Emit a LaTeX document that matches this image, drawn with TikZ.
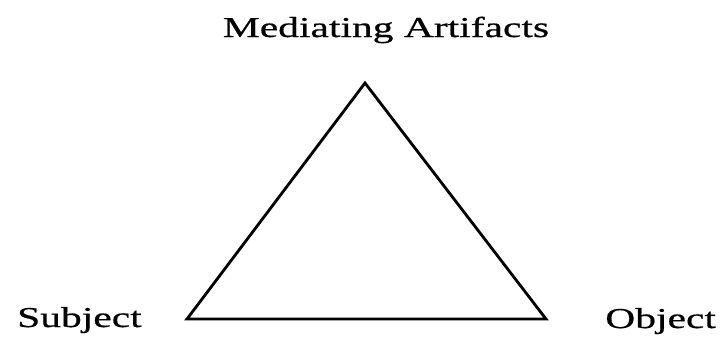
\documentclass[tikz,border=0pt]{standalone}
\usepackage{fontspec}
\setmainfont[FakeStretch=1.44,FakeBold=0.6]{Liberation Serif}
\usetikzlibrary{positioning}

\begin{document}
\begin{tikzpicture}[x=0.025cm,y=0.025cm,every node/.style={font=\fontsize{20.5}{25}\selectfont,inner sep=0pt}]
\useasboundingbox (0,0) rectangle (721,338);
\coordinate (top) at (365,255);
\coordinate (left) at (187,19);
\coordinate (right) at (546,19);
\node[anchor=base] (med) at (386,301) {Mediating Artifacts};
\node[left=1.125cm of left,anchor=base east,yshift=-0.2cm] (subj) {Subject};
\node[right=1.475cm of right,anchor=base west,yshift=-0.225cm] (obj) {Object};
\draw[line width=2pt,line join=miter] (top) -- (right) -- (left) -- cycle;
\end{tikzpicture}
\end{document}
